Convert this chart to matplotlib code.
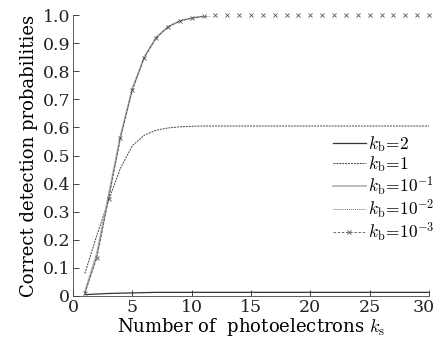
import numpy as np
import matplotlib
matplotlib.use("Agg")
import matplotlib.pyplot as plt
import matplotlib.transforms as mtrans
from matplotlib.patches import Rectangle
from matplotlib.lines import Line2D

plt.rcParams['font.family'] = ['DejaVu Serif']
plt.rcParams['mathtext.fontset'] = 'cm'

ks = list(range(1, 31))

# detection probability for each background level
p_kb2 = [0.005, 0.007, 0.009, 0.010, 0.011, 0.012, 0.013, 0.013, 0.013, 0.013] + [0.013] * 20
p_kb1 = [0.080, 0.215, 0.340, 0.455, 0.535, 0.572, 0.590, 0.598, 0.602, 0.604] + [0.605] * 20
p_kb01 = [0.014, 0.150, 0.360, 0.570, 0.738, 0.850, 0.920, 0.958, 0.979, 0.989, 0.995] + [1.0] * 19
p_kb001 = [0.011, 0.138, 0.348, 0.564, 0.734, 0.848, 0.919, 0.957, 0.979, 0.989, 0.996] + [1.0] * 19
p_kb0001 = [0.010, 0.135, 0.345, 0.562, 0.733, 0.847, 0.918, 0.957, 0.979, 0.989, 0.996] + [1.0] * 19

labels = [r'$k_{\rm b}\!=\!2$', r'$k_{\rm b}\!=\!1$', r'$k_{\rm b}\!=\!10^{-1}$',
          r'$k_{\rm b}\!=\!10^{-2}$', r'$k_{\rm b}\!=\!10^{-3}$']

fig = plt.figure(figsize=(4.36, 3.45), dpi=100)
ax = fig.add_axes([73 / 436, 49 / 345, 356 / 436, 281 / 345])

# lines sitting exactly on 1.0 vanish under the top edge, markers stay
clip = Rectangle((0, 0), 1, 0.996, transform=ax.transAxes)

styles = [
    dict(color='#333333', lw=0.9),
    dict(color='#444444', lw=0.7, ls=(0, (2, 1))),
    dict(color='#b0b0b0', lw=1.2),
    dict(color='#777777', lw=0.7, ls=(0, (1, 1))),
    dict(color='#555555', lw=0.6, ls=(0, (3, 2))),
]
handles = []
for ys, st in zip([p_kb2, p_kb1, p_kb01, p_kb001, p_kb0001], styles):
    ln, = ax.plot(ks, ys, **st)
    ln.set_clip_path(clip)
    handles.append(Line2D([], [], **st))

ax.plot(ks, p_kb0001, ls='none', marker='x', markersize=3, markeredgewidth=0.6,
        color='#555555', clip_on=False)
handles[4].set_marker('x')
handles[4].set_markersize(3)
handles[4].set_markeredgewidth(0.6)

ax.set_xlim(0, 30)
ax.set_ylim(0, 1.0)
ax.set_xticks([0, 5, 10, 15, 20, 25, 30])
ax.set_xticklabels(['0', '5', '10', '15', '20', '25', '30'])
ax.set_yticks(np.arange(0, 1.01, 0.1))
ax.set_yticklabels(['0'] + ['%.1f' % v for v in np.arange(0.1, 1.01, 0.1)])
ax.tick_params(direction='in', length=4, width=0.6, labelsize=12.5, pad=2, colors='#222222')
for s in ['top', 'right']:
    ax.spines[s].set_visible(False)
for s in ['left', 'bottom']:
    ax.spines[s].set_linewidth(0.6)
    ax.spines[s].set_color('#444444')

# nudge the last x label so it stays inside the figure
last = ax.get_xticklabels()[-1]
last.set_transform(last.get_transform() + mtrans.ScaledTranslation(-4 / 72, 0, fig.dpi_scale_trans))

ax.set_xlabel(r'Number of  photoelectrons $k_{\rm s}$', fontsize=13, labelpad=0)
ax.set_ylabel('Correct detection probabilities', fontsize=13, labelpad=3)

ax.legend(handles, labels, loc='upper left', bbox_to_anchor=(0.73, 0.575), frameon=False,
          fontsize=12.5, handlelength=1.9, handletextpad=0.15, labelspacing=0.0,
          borderpad=0, borderaxespad=0)

fig.savefig('out.png', dpi=100)
